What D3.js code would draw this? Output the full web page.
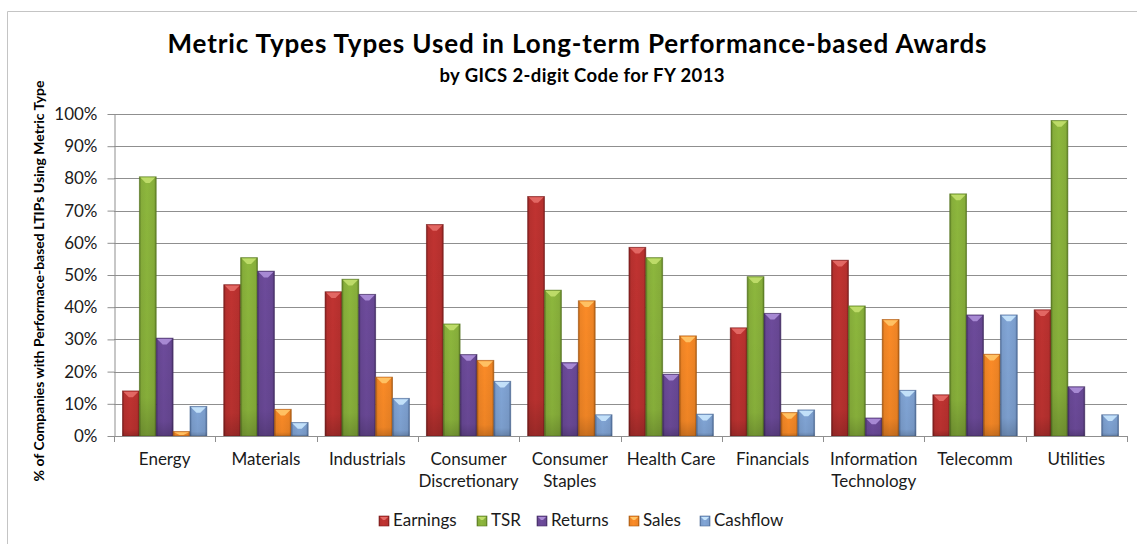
<!DOCTYPE html>
<html>
<head>
<meta charset="utf-8">
<script src="https://cdn.jsdelivr.net/npm/d3@7"></script>
<style>
  html, body { margin: 0; padding: 0; background: #fff; }
  svg { display: block; }
  text { font-family: Lato, "Open Sans", "DejaVu Sans", sans-serif; }
</style>
</head>
<body>
<svg id="chart" width="1137" height="544"></svg>
<script>
// ---- data -------------------------------------------------------------
const categories = ["Energy", "Materials", "Industrials", "Consumer Discretionary",
  "Consumer Staples", "Health Care", "Financials", "Information Technology",
  "Telecomm", "Utilities"];
const categoryLines = [["Energy"], ["Materials"], ["Industrials"], ["Consumer", "Discretionary"],
  ["Consumer", "Staples"], ["Health Care"], ["Financials"], ["Information", "Technology"],
  ["Telecomm"], ["Utilities"]];
const seriesNames = ["Earnings", "TSR", "Returns", "Sales", "Cashflow"];

// percent of companies using each metric type
const earnings = [14.0, 47.0, 44.8, 65.7, 74.4, 58.6, 33.6, 54.6, 12.8, 39.2];
const tsr      = [80.5, 55.4, 48.7, 34.8, 45.3, 55.4, 49.5, 40.4, 75.2, 98.0];
const returns  = [30.4, 51.2, 44.0, 25.3, 22.8, 19.2, 38.1, 5.6, 37.6, 15.3];
const sales    = [1.4, 8.3, 18.3, 23.5, 42.0, 31.1, 7.3, 36.2, 25.4, 0];
const cashflow = [9.2, 4.2, 11.7, 17.0, 6.6, 6.8, 8.1, 14.2, 37.6, 6.6];
const seriesValues = [earnings, tsr, returns, sales, cashflow];

const yTicks = [0, 10, 20, 30, 40, 50, 60, 70, 80, 90, 100];

// bar palette: body, light top bevel, dark edge
const bodyColors  = ["#b6302e", "#86ad3a", "#674793", "#ee8425", "#7b9dcc"];
const lightColors = ["#e46a66", "#c0dd6a", "#ab8cd6", "#ffc466", "#c6e4fb"];
const edgeColors  = ["#7a1d1c", "#587822", "#432d63", "#a85a12", "#4e6b96"];

// ---- layout -----------------------------------------------------------
const svg = d3.select("#chart");
const plot = { left: 114, right: 1127, top: 114, bottom: 436 };

const x0 = d3.scaleBand().domain(categories).range([plot.left, plot.right]).paddingInner(0).paddingOuter(0);
const x1 = d3.scaleBand().domain(seriesNames).range([0, x0.bandwidth()]).paddingInner(0).paddingOuter(0.5);
const y = d3.scaleLinear().domain([0, 100]).range([plot.bottom, plot.top]);

// chart-area frame
svg.append("path")
  .attr("d", "M7.5,544 V11.5 H1137")
  .attr("fill", "none").attr("stroke", "#c4c4c4").attr("stroke-width", 1);

// ---- gradients --------------------------------------------------------
const defs = svg.append("defs");
seriesNames.forEach((s, i) => {
  const g = defs.append("linearGradient").attr("id", "grad" + i)
    .attr("x1", "0").attr("x2", "1").attr("y1", "0").attr("y2", "0");
  g.append("stop").attr("offset", "0").attr("stop-color", edgeColors[i]);
  g.append("stop").attr("offset", "0.12").attr("stop-color", bodyColors[i]);
  g.append("stop").attr("offset", "0.45").attr("stop-color", d3.color(bodyColors[i]).brighter(0.15));
  g.append("stop").attr("offset", "0.88").attr("stop-color", bodyColors[i]);
  g.append("stop").attr("offset", "1").attr("stop-color", edgeColors[i]);
  const v = defs.append("linearGradient").attr("id", "shade" + i)
    .attr("x1", "0").attr("x2", "0").attr("y1", "0").attr("y2", "1");
  v.append("stop").attr("offset", "0").attr("stop-color", "#000").attr("stop-opacity", 0);
  v.append("stop").attr("offset", "0.85").attr("stop-color", "#000").attr("stop-opacity", 0.05);
  v.append("stop").attr("offset", "1").attr("stop-color", "#000").attr("stop-opacity", 0.2);
});

// ---- gridlines ---------------------------------------------------------
svg.append("g").selectAll("line").data(yTicks.filter(d => d > 0)).join("line")
  .attr("x1", plot.left).attr("x2", plot.right)
  .attr("y1", d => Math.round(y(d)) + 0.5).attr("y2", d => Math.round(y(d)) + 0.5)
  .attr("stroke", "#8f8f8f").attr("stroke-width", 1);

// ---- y axis ------------------------------------------------------------
const yAxis = svg.append("g").attr("transform", `translate(${plot.left + 0.5},0)`)
  .call(d3.axisLeft(y).tickValues(yTicks).tickFormat(d => d + "%").tickSize(7).tickSizeOuter(0).tickPadding(10));
yAxis.select(".domain").attr("stroke", "#8f8f8f");
yAxis.selectAll(".tick line").attr("stroke", "#8f8f8f");
yAxis.selectAll(".tick text").attr("font-size", 17).attr("fill", "#1a1a1a")
  .style("font-family", "Lato, 'Open Sans', sans-serif");

svg.append("text")
  .attr("transform", `translate(44,${(plot.top + plot.bottom) / 2 + 6}) rotate(-90)`)
  .attr("text-anchor", "middle").attr("font-size", 14).attr("font-weight", "bold").attr("fill", "#000")
  .text("% of Companies with Performace-based LTIPs Using Metric Type");

// ---- bars --------------------------------------------------------------
const groups = svg.append("g").selectAll("g").data(categories).join("g")
  .attr("transform", d => `translate(${x0(d)},0)`);

groups.each(function (cat, ci) {
  const g = d3.select(this);
  const rows = seriesNames.map((s, si) => ({ s, si, v: seriesValues[si][ci] })).filter(d => d.v > 0);
  const bar = g.selectAll("g.bar").data(rows).join("g").attr("class", "bar");
  bar.append("rect")
    .attr("x", d => x1(d.s)).attr("width", x1.bandwidth())
    .attr("y", d => y(d.v)).attr("height", d => y(0) - y(d.v))
    .attr("fill", d => `url(#grad${d.si})`)
    .attr("stroke", d => edgeColors[d.si]).attr("stroke-width", 0.8).attr("stroke-opacity", 0.7);
  bar.append("rect")
    .attr("x", d => x1(d.s)).attr("width", x1.bandwidth())
    .attr("y", d => y(d.v)).attr("height", d => y(0) - y(d.v))
    .attr("fill", d => `url(#shade${d.si})`);
  // top bevel highlight
  bar.append("polygon")
    .attr("points", d => {
      const xl = x1(d.s) + 1, xr = x1(d.s) + x1.bandwidth() - 1, yt = y(d.v) + 0.8;
      const depth = Math.min(5.5, (y(0) - y(d.v)) * 0.6);
      const xm = (xl + xr) / 2;
      return `${xl},${yt} ${xr},${yt} ${xm + 2},${yt + depth} ${xm - 2},${yt + depth}`;
    })
    .attr("fill", d => lightColors[d.si]).attr("opacity", 0.95);
});

// ---- x axis ------------------------------------------------------------
svg.append("line")
  .attr("x1", plot.left).attr("x2", plot.right)
  .attr("y1", plot.bottom + 0.5).attr("y2", plot.bottom + 0.5)
  .attr("stroke", "#8f8f8f");
const boundaries = categories.map(c => x0(c)).concat([x0(categories[categories.length - 1]) + x0.bandwidth()]);
svg.append("g").selectAll("line").data(boundaries).join("line")
  .attr("x1", d => Math.round(d) + 0.5).attr("x2", d => Math.round(d) + 0.5)
  .attr("y1", plot.bottom).attr("y2", plot.bottom + 6)
  .attr("stroke", "#8f8f8f");

const xLabels = svg.append("g").selectAll("text").data(categories).join("text")
  .attr("text-anchor", "middle").attr("font-size", 17).attr("fill", "#1a1a1a")
  .attr("x", d => x0(d) + x0.bandwidth() / 2).attr("y", 465);
xLabels.each(function (d, i) {
  const t = d3.select(this);
  categoryLines[i].forEach((line, li) => {
    t.append("tspan").attr("x", x0(d) + x0.bandwidth() / 2).attr("dy", li === 0 ? 0 : 22).text(line);
  });
});

// ---- titles ------------------------------------------------------------
svg.append("text").attr("x", 577).attr("y", 53).attr("text-anchor", "middle")
  .attr("font-size", 26).attr("font-weight", "bold").attr("fill", "#000")
  .attr("textLength", 819).attr("lengthAdjust", "spacing")
  .text("Metric Types Types Used in Long-term Performance-based Awards");
svg.append("text").attr("x", 582).attr("y", 82).attr("text-anchor", "middle")
  .attr("font-size", 18.5).attr("font-weight", "bold").attr("fill", "#000")
  .attr("textLength", 285).attr("lengthAdjust", "spacing")
  .text("by GICS 2-digit Code for FY 2013");

// ---- legend ------------------------------------------------------------
const legendX = [379, 477, 537, 629, 700];
const legend = svg.append("g").selectAll("g").data(seriesNames).join("g")
  .attr("transform", (d, i) => `translate(${legendX[i]},516)`);
legend.append("rect").attr("width", 10).attr("height", 10)
  .attr("fill", (d, i) => `url(#grad${i})`).attr("stroke", (d, i) => edgeColors[i]).attr("stroke-width", 0.6);
legend.append("polygon").attr("points", "1,1 9,1 6,4 4,4").attr("fill", (d, i) => lightColors[i]);
legend.append("text").attr("x", 14).attr("y", 10).attr("font-size", 17).attr("fill", "#1a1a1a")
  .text(d => d);
</script>
</body>
</html>
